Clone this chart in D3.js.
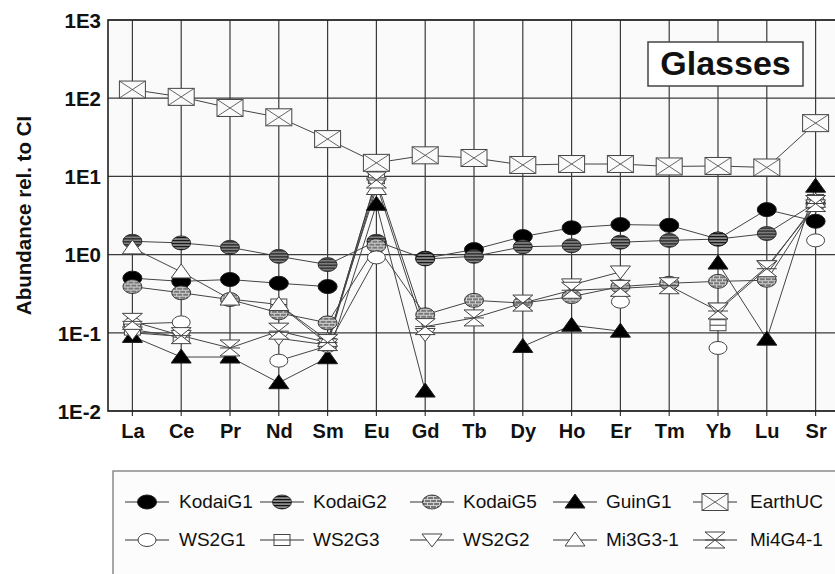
<!DOCTYPE html>
<html><head><meta charset="utf-8">
<script src="https://cdn.jsdelivr.net/npm/d3@7"></script>
<style>
html,body{margin:0;padding:0;background:#fff;overflow:hidden}
svg{display:block}
text{font-family:"Liberation Sans",Arial,sans-serif}
</style></head>
<body>
<svg id="chart" width="835" height="574"></svg>
<script>
// ---------- DATA ----------
const categories = ["La","Ce","Pr","Nd","Sm","Eu","Gd","Tb","Dy","Ho","Er","Tm","Yb","Lu","Sr"];
const tickValues = [0.01, 0.1, 1, 10, 100, 1000];
const tickLabels = ["1E-2","1E-1","1E0","1E1","1E2","1E3"];
const seriesNames = ["KodaiG1","KodaiG2","KodaiG5","GuinG1","EarthUC","WS2G1","WS2G3","WS2G2","Mi3G3-1","Mi4G4-1"];

const KodaiG1 = [0.50, 0.455, 0.48, 0.43, 0.39, null, 0.90, 1.16, 1.70, 2.20, 2.42, 2.37, 1.58, 3.76, 2.67];
const KodaiG2 = [1.48, 1.41, 1.24, 0.95, 0.745, 1.48, 0.88, 0.95, 1.26, 1.30, 1.44, 1.52, 1.58, 1.86, 4.6];
const KodaiG5 = [0.39, 0.325, 0.266, 0.18, 0.134, 1.30, 0.17, 0.26, 0.24, 0.29, 0.39, 0.43, 0.455, 0.47, 4.4];
const GuinG1  = [0.09, 0.049, 0.049, 0.023, 0.048, 4.4, 0.018, null, 0.067, 0.125, 0.105, null, 0.78, 0.083, 7.5];
const EarthUC = [129, 104, 75, 57, 30, 14.9, 18.6, 17.2, 14.0, 14.4, 14.4, 13.4, 13.6, 13.0, 48];
const WS2G1   = [0.13, 0.136, null, 0.044, 0.068, 0.92, null, null, null, null, 0.25, null, 0.064, null, 1.52];
const WS2G3   = [0.11, 0.088, null, 0.23, 0.072, 9.5, null, null, null, null, null, null, 0.125, null, 5.0];
const WS2G2   = [0.10, 0.09, null, 0.085, 0.07, 8.0, 0.095, null, null, 0.41, 0.60, null, 0.20, 0.70, 4.2];
const Mi3G3_1 = [1.22, 0.60, 0.27, 0.23, 0.08, 7.0, null, null, null, null, null, null, null, null, 4.8];
const Mi4G4_1 = [0.14, 0.092, 0.064, 0.105, 0.075, 9.0, 0.12, 0.155, 0.24, 0.35, 0.37, 0.40, 0.19, 0.66, 4.5];

const seriesValues = [KodaiG1, KodaiG2, KodaiG5, GuinG1, EarthUC, WS2G1, WS2G3, WS2G2, Mi3G3_1, Mi4G4_1];
const seriesMarker = ["ellipseFilled","ellipseStriped","ellipseBrick","triFilled","boxX","ellipseOpen","boxOpen","triDownOpen","triUpOpen","hourglass"];
const legendTitle = "Glasses";
const yAxisTitle = "Abundance rel. to CI";

// ---------- LAYOUT ----------
const svg = d3.select("#chart");
const plot = {left:108, top:20, right:840, bottom:411};

const defs = svg.append("defs");
const stripes = defs.append("pattern").attr("id","stripes").attr("patternUnits","userSpaceOnUse")
  .attr("width",4).attr("height",3);
stripes.append("rect").attr("width",4).attr("height",3).attr("fill","#8a8a8a");
stripes.append("rect").attr("width",4).attr("height",1.2).attr("fill","#111");
const brick = defs.append("pattern").attr("id","brick").attr("patternUnits","userSpaceOnUse")
  .attr("width",6).attr("height",6);
brick.append("rect").attr("width",6).attr("height",6).attr("fill","#777");
brick.append("path").attr("d","M0,0.5H6M0,3.5H6M1.5,0.5V3.5M4.5,3.5V6.5").attr("stroke","#d8d8d8").attr("stroke-width",0.9).attr("fill","none");

const x = d3.scalePoint().domain(categories).range([plot.left, plot.right]).padding(0.5);
const y = d3.scaleLog().domain([0.01, 1000]).range([plot.bottom, plot.top]);

const clip = defs.append("clipPath").attr("id","plotclip");
clip.append("rect").attr("x",plot.left).attr("y",plot.top-15).attr("width",plot.right-plot.left+20).attr("height",plot.bottom-plot.top+30);

// plot background
svg.append("rect").attr("x",plot.left).attr("y",plot.top)
  .attr("width",plot.right-plot.left).attr("height",plot.bottom-plot.top)
  .attr("fill","#fafafa");

// grid
const grid = svg.append("g");
grid.selectAll(".vg").data(categories).join("line")
  .attr("x1",d=>x(d)).attr("x2",d=>x(d))
  .attr("y1",plot.top).attr("y2",plot.bottom+5)
  .attr("stroke","#3a3a3a").attr("stroke-width",1.2);
grid.selectAll(".hg").data(tickValues).join("line")
  .attr("x1",plot.left).attr("x2",plot.right)
  .attr("y1",d=>y(d)).attr("y2",d=>y(d))
  .attr("stroke","#3a3a3a").attr("stroke-width",1.2);

// frame
svg.append("rect").attr("x",plot.left).attr("y",plot.top)
  .attr("width",plot.right-plot.left).attr("height",plot.bottom-plot.top)
  .attr("fill","none").attr("stroke","#222").attr("stroke-width",1.6);

// y axis tick labels
const yAxis = d3.axisLeft(y).tickValues(tickValues).tickFormat((d,i)=>tickLabels[i]).tickSize(0).tickPadding(7);
const yg = svg.append("g").attr("transform",`translate(${plot.left},0)`).call(yAxis);
yg.select(".domain").remove();
yg.selectAll("text").attr("font-size",20.5).attr("font-weight","bold").attr("fill","#111")
  .attr("font-family","Liberation Sans, Arial, sans-serif").attr("dy","0.36em");

// x axis labels
const xAxis = d3.axisBottom(x).tickSize(0).tickPadding(13);
const xg = svg.append("g").attr("transform",`translate(0,${plot.bottom})`).call(xAxis);
xg.select(".domain").remove();
xg.selectAll("text").attr("font-size",20).attr("font-weight","bold").attr("fill","#111")
  .attr("font-family","Liberation Sans, Arial, sans-serif");

// y title
svg.append("text").attr("transform",`translate(31,${(plot.top+plot.bottom)/2}) rotate(-90)`)
  .attr("text-anchor","middle").attr("font-size",20.5).attr("font-weight","bold").attr("fill","#111")
  .text(yAxisTitle);

// ---------- MARKERS ----------
function marker(g, type, cx, cy){
  const s = g.append("g").attr("transform",`translate(${cx},${cy})`);
  const st = "#1a1a1a";
  switch(type){
    case "ellipseFilled":
      s.append("ellipse").attr("rx",9.5).attr("ry",7).attr("fill","#000").attr("stroke",st); break;
    case "ellipseStriped":
      s.append("ellipse").attr("rx",9.5).attr("ry",7).attr("fill","url(#stripes)").attr("stroke",st).attr("stroke-width",0.8); break;
    case "ellipseBrick":
      s.append("ellipse").attr("rx",9.5).attr("ry",7).attr("fill","url(#brick)").attr("stroke",st).attr("stroke-width",0.8); break;
    case "triFilled":
      s.append("path").attr("d","M0,-8L10,6L-10,6Z").attr("fill","#000").attr("stroke",st); break;
    case "boxX":
      s.append("rect").attr("x",-13).attr("y",-8.5).attr("width",26).attr("height",17).attr("fill","#fafafa").attr("stroke","#444").attr("stroke-width",1);
      s.append("path").attr("d","M-13,-8.5L13,8.5M-13,8.5L13,-8.5").attr("stroke","#555").attr("stroke-width",0.9); break;
    case "ellipseOpen":
      s.append("ellipse").attr("rx",9).attr("ry",6.5).attr("fill","#fff").attr("stroke","#444").attr("stroke-width",1); break;
    case "boxOpen":
      s.append("rect").attr("x",-8).attr("y",-5.5).attr("width",16).attr("height",11).attr("fill","#fff").attr("stroke","#444").attr("stroke-width",1);
      s.append("path").attr("d","M-8,0H8").attr("stroke","#444").attr("stroke-width",1); break;
    case "triDownOpen":
      s.append("path").attr("d","M-10,-6L10,-6L0,7Z").attr("fill","#fff").attr("stroke","#444").attr("stroke-width",1); break;
    case "triUpOpen":
      s.append("path").attr("d","M0,-8L10,6L-10,6Z").attr("fill","#fff").attr("stroke","#444").attr("stroke-width",1); break;
    case "hourglass":
      s.append("path").attr("d","M-10,-8L10,-8L-10,8L10,8Z").attr("fill","#fff").attr("stroke","#444").attr("stroke-width",1);
      s.append("path").attr("d","M-10,0H10").attr("stroke","#444").attr("stroke-width",1); break;
  }
  return s;
}

// ---------- SERIES ----------
const data = seriesNames.map((name,i)=>({
  name, type: seriesMarker[i],
  pts: categories.map((c,j)=>({c, v: seriesValues[i][j]}))
}));

const plotG = svg.append("g").attr("clip-path","url(#plotclip)");
const line = d3.line().defined(d=>d.v!=null).x(d=>x(d.c)).y(d=>y(d.v));
plotG.selectAll(".sline").data(data).join("path")
  .attr("d",d=>line(d.pts)).attr("fill","none").attr("stroke","#444").attr("stroke-width",1);

data.forEach(s=>{
  const g = plotG.append("g");
  s.pts.filter(p=>p.v!=null).forEach(p=>marker(g, s.type, x(p.c), y(p.v)));
});

// "Glasses" label box
const gb = svg.append("g");
gb.append("rect").attr("x",648).attr("y",42).attr("width",155).attr("height",44)
  .attr("fill","#fff").attr("stroke","#444").attr("stroke-width",1.5);
gb.append("text").attr("x",725.5).attr("y",75).attr("text-anchor","middle")
  .attr("font-size",34).attr("font-weight","bold").attr("fill","#111").text(legendTitle);

// ---------- LEGEND ----------
const lg = svg.append("g");
lg.append("rect").attr("x",113).attr("y",471).attr("width",760).attr("height",140)
  .attr("fill","#fcfcfc").attr("stroke","#8a8a8a").attr("stroke-width",1.5);
const colMarker = [147, 282, 432, 575, 715];
const colText = [179, 313, 463, 606, 750];
const rowY = [502, 540];
data.forEach((s,i)=>{
  const r = Math.floor(i/5), c = i%5;
  const mx = colMarker[c], my = rowY[r];
  lg.append("line").attr("x1",mx-22).attr("x2",mx+22).attr("y1",my).attr("y2",my)
    .attr("stroke","#333").attr("stroke-width",1.2);
  marker(lg, s.type, mx, my);
  lg.append("text").attr("x",colText[c]).attr("y",my+6).attr("font-size",19)
    .attr("fill","#111").text(s.name);
});
</script>
</body></html>
